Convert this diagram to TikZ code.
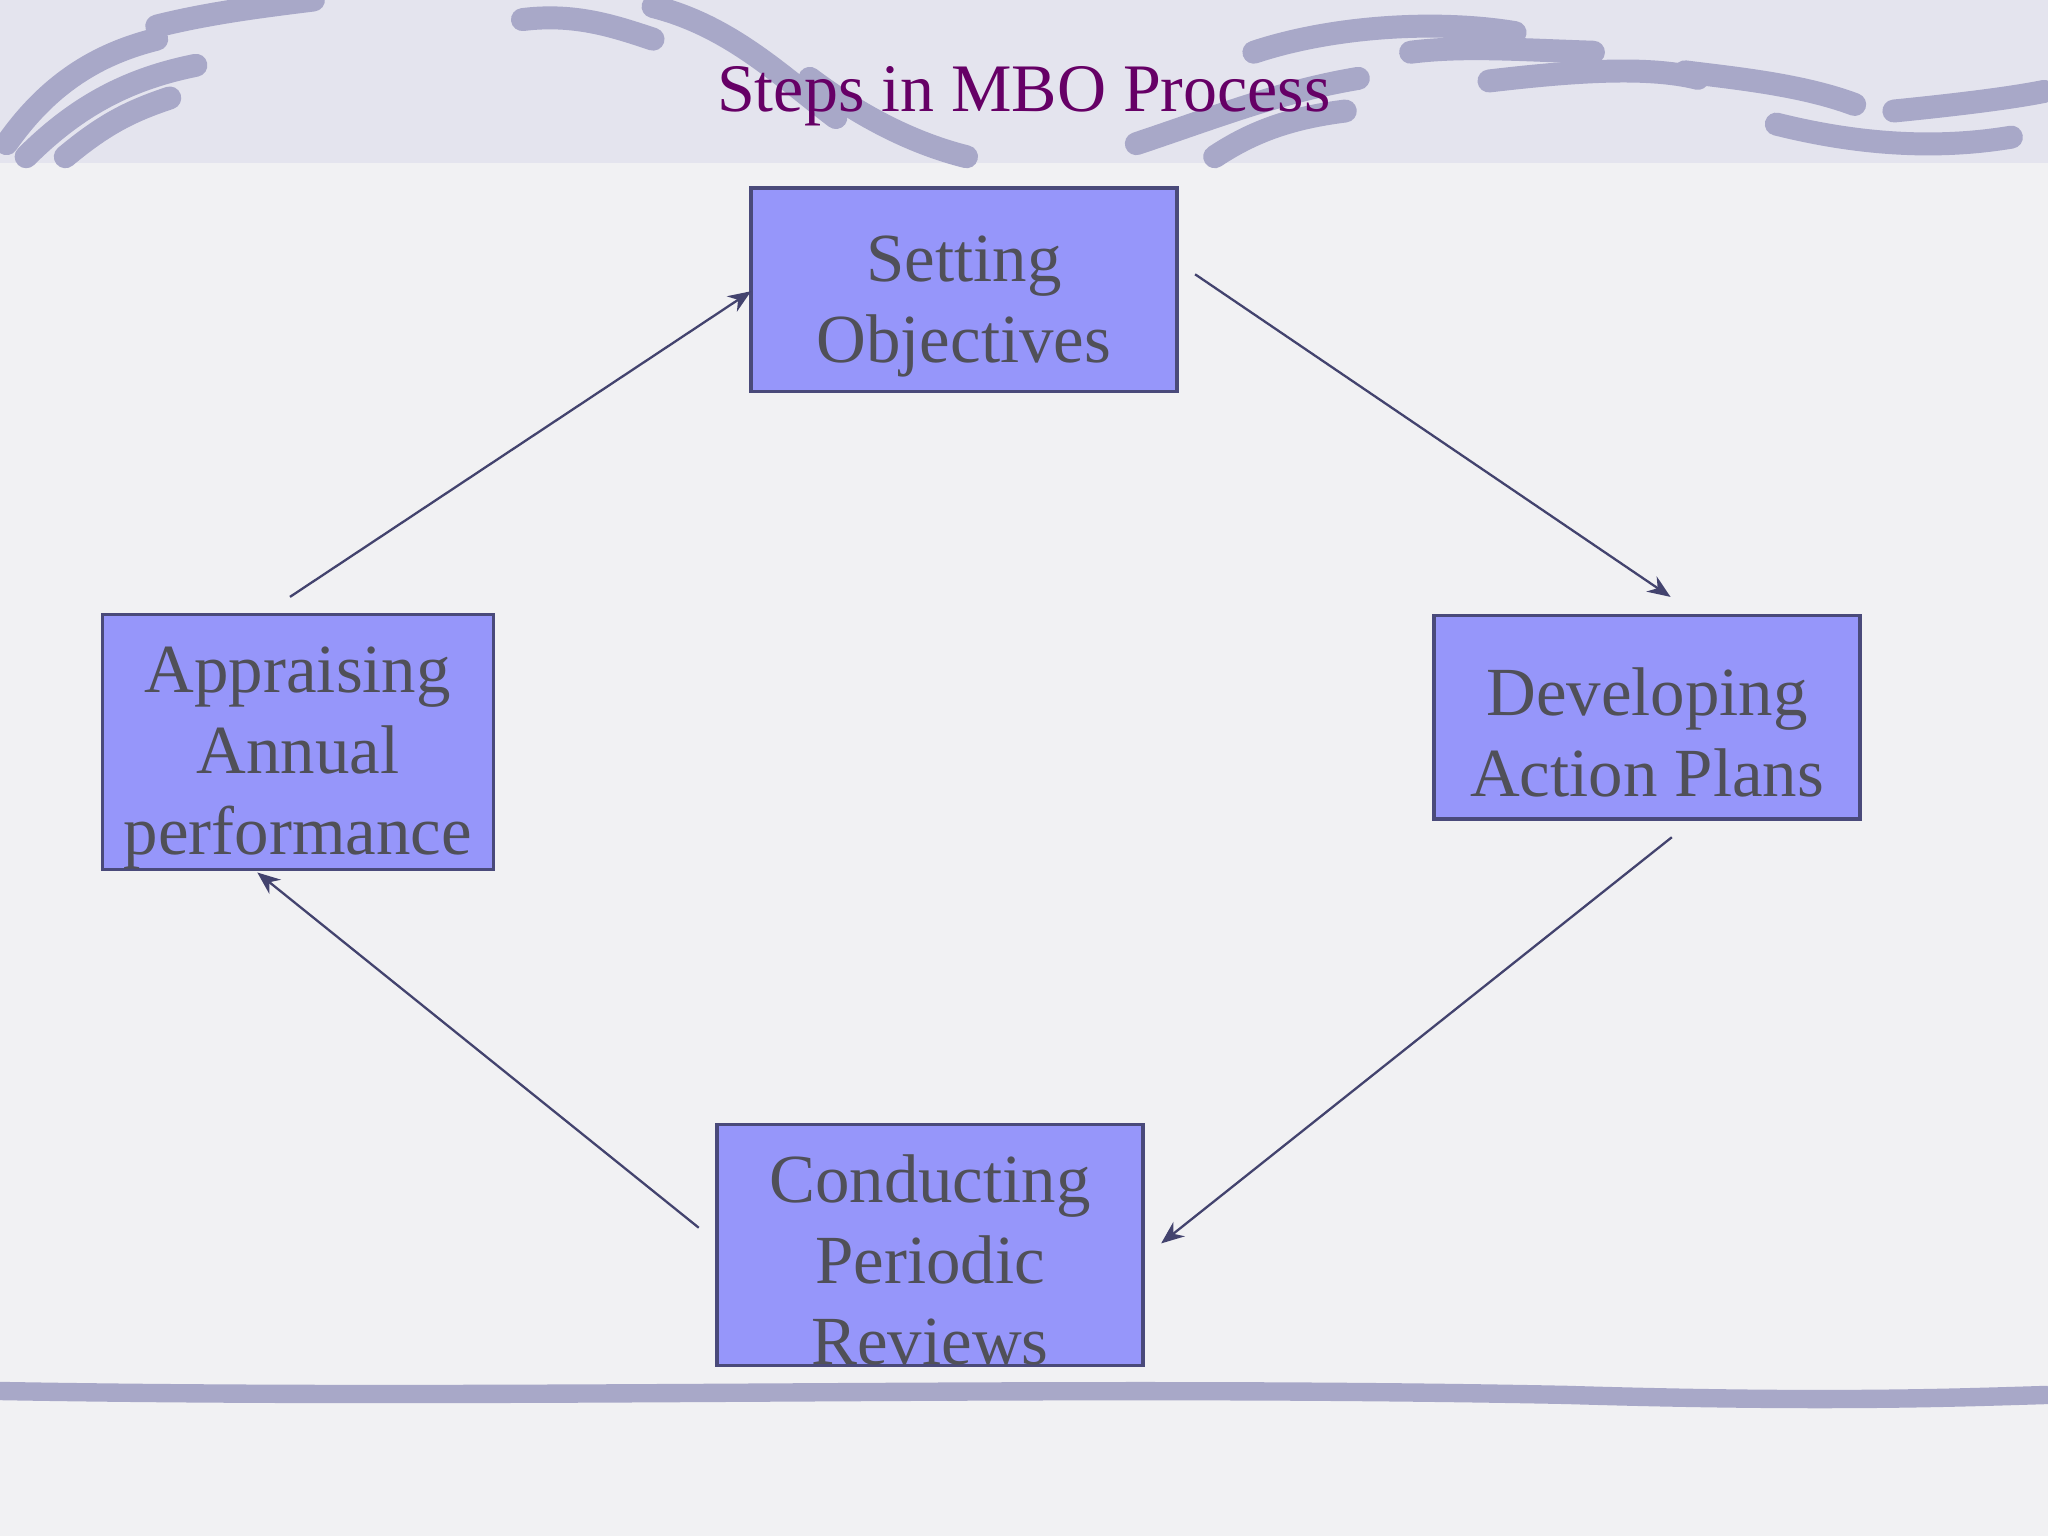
\documentclass[tikz,border=0pt]{standalone}
\usepackage{fontspec}
\setmainfont{Liberation Serif}
\usetikzlibrary{arrows.meta}
\definecolor{bg}{HTML}{F1F1F3}
\definecolor{band}{HTML}{E4E4EE}
\definecolor{deco}{HTML}{A8A8C8}
\definecolor{boxfill}{HTML}{9696FA}
\definecolor{boxline}{HTML}{4A4A7A}
\definecolor{txt}{HTML}{505058}
\definecolor{ttl}{HTML}{660066}
\begin{document}
\begin{tikzpicture}[x=0.01cm,y=-0.01cm,
  box/.style={draw=boxline,fill=boxfill,line width=0.7pt,text=txt,font=\fontsize{15}{17.6}\selectfont,align=center,inner sep=0pt},
  conn/.style={draw=boxline!90!black,line width=0.5pt,-{Stealth[length=5pt,width=4pt]}}]
\fill[bg] (0,0) rectangle (1568,1176);
\useasboundingbox (0,0) rectangle (1568,1176);
\fill[band] (0,0) rectangle (1568,125);
\begin{scope}[draw=deco,line cap=round,line width=5pt]
\draw (5,110) .. controls (40,60) and (80,40) .. (120,30);
\draw (20,120) .. controls (60,80) and (100,60) .. (150,50);
\draw (50,120) .. controls (80,95) and (100,85) .. (130,75);
\draw (120,20) .. controls (160,10) and (200,5) .. (240,0);
\draw (400,15) .. controls (440,10) and (470,20) .. (500,30);
\draw (500,5) .. controls (560,20) and (600,60) .. (640,90);
\draw (620,60) .. controls (660,90) and (700,110) .. (740,120);
\draw (870,110) .. controls (930,90) and (980,70) .. (1040,60);
\draw (960,40) .. controls (1020,20) and (1100,15) .. (1160,25);
\draw (1080,40) .. controls (1120,35) and (1160,38) .. (1220,40);
\draw (1140,62) .. controls (1200,55) and (1260,50) .. (1300,60);
\draw (1290,55) .. controls (1330,60) and (1380,65) .. (1420,80);
\draw (1360,95) .. controls (1420,110) and (1480,115) .. (1540,105);
\draw (1450,85) .. controls (1500,80) and (1540,75) .. (1565,70);
\draw (930,120) .. controls (960,100) and (990,90) .. (1030,85);
\end{scope}
\draw[deco,line width=4pt] (0,1065) .. controls (400,1072) and (800,1060) .. (1200,1068) .. controls (1400,1074) and (1500,1070) .. (1568,1068);
\node[ttl,font=\fontsize{14.8}{16}\selectfont] (title) at (784,74) {Steps in MBO Process};
\node[box,minimum width=3.26cm,minimum height=1.56cm] (set) at (738,222) {\rule{0pt}{0.6cm}Setting\\Objectives};
\node[box,minimum width=3.26cm,minimum height=1.56cm] (dev) at (1261,549) {\rule{0pt}{0.6cm}Developing\\Action Plans};
\node[box,minimum width=3.26cm,minimum height=1.83cm] (con) at (712,953) {\rule{0pt}{0.6cm}Conducting\\Periodic\\Reviews};
\node[box,minimum width=2.99cm,minimum height=1.95cm] (app) at (228,568) {\rule{0pt}{0.6cm}Appraising\\Annual\\performance};
\coordinate (a1) at (222,457); \coordinate (b1) at (575,223);
\coordinate (a2) at (915,210); \coordinate (b2) at (1279,457);
\coordinate (a3) at (1280,641); \coordinate (b3) at (889,952);
\coordinate (a4) at (535,940); \coordinate (b4) at (197,668);
\draw[conn] (a1) -- (b1);
\draw[conn] (a2) -- (b2);
\draw[conn] (a3) -- (b3);
\draw[conn] (a4) -- (b4);
\end{tikzpicture}
\end{document}
